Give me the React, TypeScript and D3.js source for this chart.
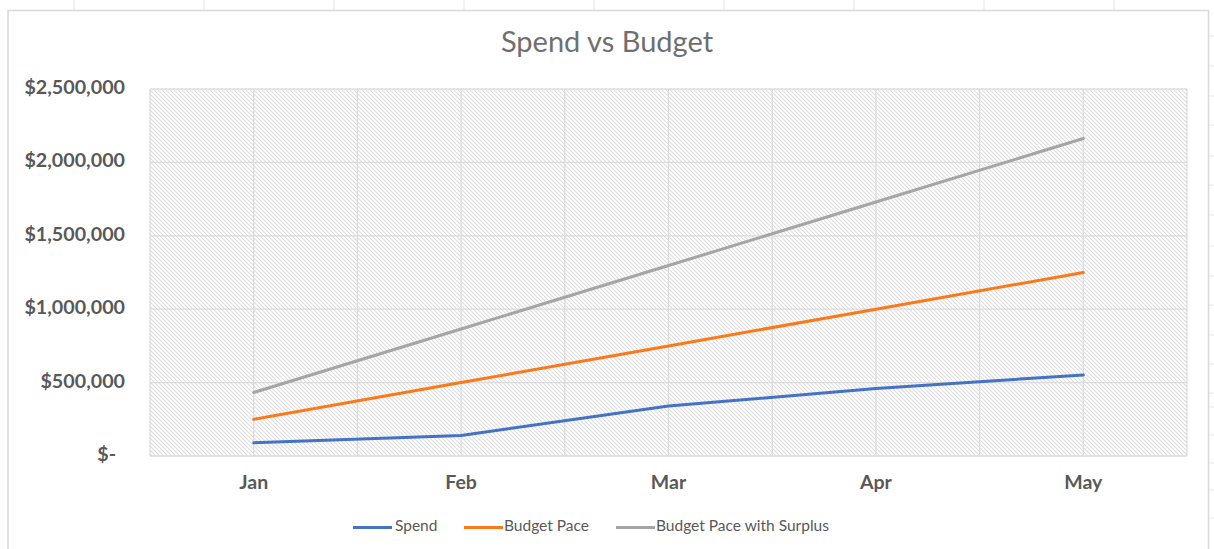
import React from "react";
import * as d3 from "d3";

const months = ["Jan", "Feb", "Mar", "Apr", "May"];
const spend = [90000, 140000, 340000, 460000, 552000];
const budgetPace = [250000, 500000, 750000, 1000000, 1250000];
const budgetSurplus = [432500, 865000, 1297500, 1730000, 2162500];
const yTicks = [0, 500000, 1000000, 1500000, 2000000, 2500000];

const seriesNames = ["Spend", "Budget Pace", "Budget Pace with Surplus"];
const seriesColors = ["#4472C4", "#FA7A1A", "#A5A5A5"];
const seriesData = [spend, budgetPace, budgetSurplus];

const W = 1214;
const H = 549;
const plot = { left: 150, right: 1187, top: 89, bottom: 456 };

const sheetColTicks = [74, 204, 334, 464, 594, 724, 854, 984, 1114];
const sheetRowTicks = [36, 66, 96, 125, 156, 185, 215, 246, 276, 305, 335, 364, 393, 407, 435, 463, 490, 518];

export default function App() {
  const x = d3.scaleBand<string>().domain(months).range([plot.left, plot.right]).padding(0);
  const y = d3.scaleLinear().domain([0, 2500000]).range([plot.bottom, plot.top]);
  const bw = x.bandwidth();
  const cx = (m: string) => (x(m) as number) + bw / 2;

  const line = d3
    .line<number>()
    .x((_, i) => cx(months[i]))
    .y((d) => y(d));

  const fmt = (v: number) => (v === 0 ? "$-" : d3.format("$,.0f")(v));

  const vLines: number[] = [];
  months.forEach((m) => {
    vLines.push(x(m) as number);
    vLines.push(cx(m));
  });
  vLines.push(plot.right);

  const legendItems = [
    { lx: 353, tx: 395 },
    { lx: 464, tx: 504 },
    { lx: 616, tx: 656 },
  ];

  return (
    <svg
      width={W}
      height={H}
      style={{ position: "absolute", left: 0, top: 0, background: "#fff" }}
      fontFamily="Lato, 'Open Sans', sans-serif"
    >
      <defs>
        <pattern id="hatch" x={0} y={0} width={4} height={4} patternUnits="userSpaceOnUse">
          <path d="M-1,-1 L5,5 M-1,3 L1,5 M3,-1 L5,1" stroke="#dddddd" strokeWidth={1.05} fill="none" />
        </pattern>
      </defs>

      {/* spreadsheet grid remnants */}
      {sheetColTicks.map((t) => (
        <line key={"c" + t} x1={t} x2={t} y1={0} y2={10} stroke="#e6e6e6" strokeWidth={1} />
      ))}
      {sheetRowTicks.map((t) => (
        <line key={"r" + t} x1={1209} x2={W} y1={t} y2={t} stroke="#e6e6e6" strokeWidth={1} />
      ))}

      {/* chart border */}
      <rect x={8} y={10.5} width={1200.5} height={H + 10} fill="#fff" stroke="#d9d9d9" strokeWidth={1.5} />

      {/* title */}
      <text x={607} y={45} textAnchor="middle" dominantBaseline="middle" fontSize={29} fill="#6f6f6f">
        Spend vs Budget
      </text>

      {/* plot area hatch */}
      <rect
        x={plot.left}
        y={plot.top}
        width={plot.right - plot.left}
        height={plot.bottom - plot.top}
        fill="url(#hatch)"
      />

      {/* gridlines */}
      {yTicks.map((t) => (
        <line key={"h" + t} x1={plot.left} x2={plot.right} y1={y(t)} y2={y(t)} stroke="#dcdcdc" strokeWidth={1.3} />
      ))}
      {vLines.map((v, i) => (
        <line key={"v" + i} x1={v} x2={v} y1={plot.top} y2={plot.bottom} stroke="#dcdcdc" strokeWidth={1.3} />
      ))}

      {/* y labels */}
      {yTicks.map((t) => (
        <text
          key={"yl" + t}
          x={t === 0 ? 116 : 125}
          y={y(t)}
          textAnchor="end"
          dominantBaseline="middle"
          fontSize={19.7}
          fontWeight="bold"
          fill="#595959"
        >
          {fmt(t)}
        </text>
      ))}

      {/* x labels */}
      {months.map((m) => (
        <text
          key={"xl" + m}
          x={cx(m)}
          y={484}
          textAnchor="middle"
          dominantBaseline="middle"
          fontSize={19.5}
          fontWeight="bold"
          fill="#595959"
        >
          {m}
        </text>
      ))}

      {/* series lines */}
      {seriesData.map((s, i) => (
        <path
          key={"s" + i}
          d={line(s) || ""}
          fill="none"
          stroke={seriesColors[i]}
          strokeWidth={3}
          strokeLinejoin="round"
          strokeLinecap="round"
        />
      ))}

      {/* legend */}
      {seriesNames.map((n, i) => (
        <g key={"lg" + n}>
          <line
            x1={legendItems[i].lx}
            x2={legendItems[i].lx + 39}
            y1={527.5}
            y2={527.5}
            stroke={seriesColors[i]}
            strokeWidth={3}
          />
          <text x={legendItems[i].tx} y={527} dominantBaseline="middle" fontSize={15.5} fill="#595959">
            {n}
          </text>
        </g>
      ))}
    </svg>
  );
}
